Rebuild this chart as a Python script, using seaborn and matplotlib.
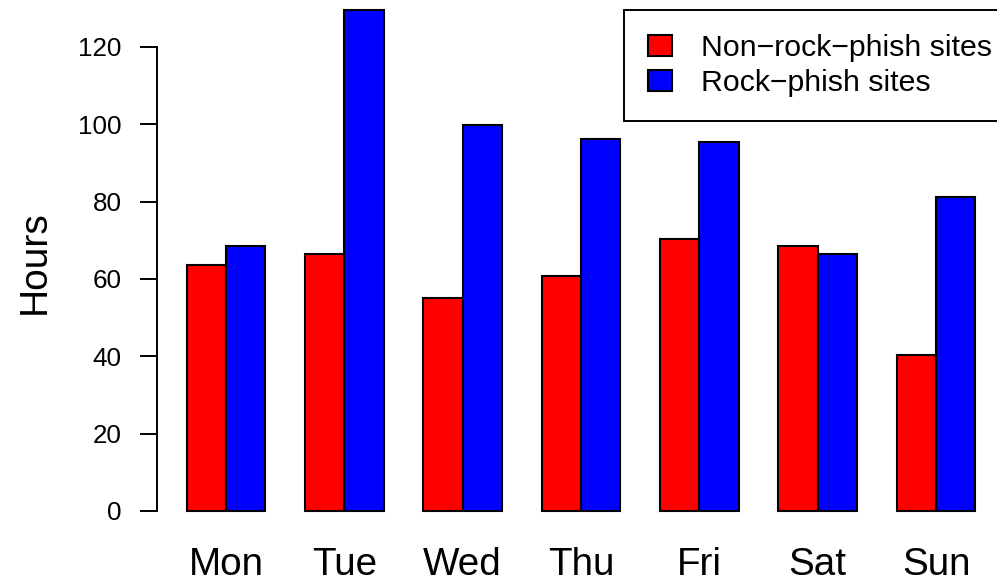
import matplotlib
matplotlib.use("Agg")
import matplotlib.pyplot as plt
import seaborn as sns
import pandas as pd

# Mean hours by day of week
days = ["Mon", "Tue", "Wed", "Thu", "Fri", "Sat", "Sun"]
non_rock_phish = [63.6, 66.5, 55.0, 60.8, 70.3, 68.6, 40.3]
rock_phish = [68.6, 129.6, 99.8, 96.1, 95.3, 66.5, 81.3]
series_names = ["Non\u2212rock\u2212phish sites", "Rock\u2212phish sites"]
y_ticks = [0, 20, 40, 60, 80, 100, 120]

df = pd.DataFrame({
    "day": days * 2,
    "hours": non_rock_phish + rock_phish,
    "site": [series_names[0]] * len(days) + [series_names[1]] * len(days),
})

sns.set_theme(style="white")
plt.rcParams["font.family"] = ["Liberation Sans", "DejaVu Sans"]
plt.rcParams["text.color"] = "black"
plt.rcParams["axes.labelcolor"] = "black"

W, H = 997, 584
fig = plt.figure(figsize=(W / 100, H / 100), dpi=100)

# plot region in pixel terms
left_px, right_px = 156.7, 1007.0
bottom_px, top_px = 531.1, 4.4
ax = fig.add_axes([left_px / W, 1 - bottom_px / H,
                   (right_px - left_px) / W, (bottom_px - top_px) / H])

sns.barplot(data=df, x="day", y="hours", hue="site", order=days,
            hue_order=series_names, palette=["#ff0000", "#0000ff"],
            width=2 / 3, saturation=1, edgecolor="black", linewidth=1.5,
            errorbar=None, ax=ax)

ax.set_xlim(-0.586, 6.6)
ax.set_ylim(-5.2, 131.0)

for side in ["top", "right", "bottom"]:
    ax.spines[side].set_visible(False)
ax.spines["left"].set_bounds(0, 120)
ax.spines["left"].set_color("black")
ax.spines["left"].set_linewidth(1.4)

ax.set_yticks(y_ticks)
ax.set_yticklabels([str(t) for t in y_ticks])
ax.tick_params(axis="y", length=12.2, width=1.4, color="black", pad=13,
               labelsize=18.7, labelcolor="black", left=True)
ax.tick_params(axis="x", length=0, pad=11.5, labelsize=27.8, labelcolor="black")

ax.set_xlabel("")
ax.set_ylabel("Hours", fontsize=28, color="black")
ax.yaxis.set_label_coords((35 - left_px) / (right_px - left_px),
                          (bottom_px - 262.5) / (bottom_px - top_px))
ax.yaxis.label.set_verticalalignment("center")

handles, labels = ax.get_legend_handles_labels()
leg = ax.legend(handles, labels, loc="upper left",
                bbox_to_anchor=(624 / W, 1 - 10 / H),
                bbox_transform=fig.transFigure, borderaxespad=0,
                fontsize=21.8, frameon=True, fancybox=False, shadow=False,
                framealpha=1, edgecolor="black", borderpad=0.8,
                handlelength=0.8, handleheight=0.67, handletextpad=0.95,
                labelspacing=0.22)
leg.get_frame().set_linewidth(1.4)
for t in leg.get_texts():
    t.set_color("black")

fig.savefig("out.png", dpi=100, facecolor="white")
